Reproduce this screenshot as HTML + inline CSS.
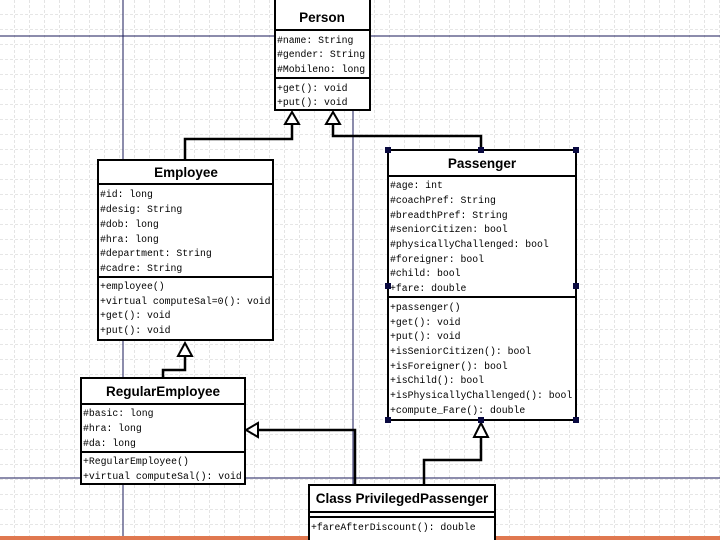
<!DOCTYPE html><html><head><style>body{margin:0;background:#fff}svg{display:block}</style></head><body>
<svg width="720" height="540" xmlns="http://www.w3.org/2000/svg" font-family="Liberation Mono, monospace" font-size="9.8">
<defs><pattern id="g" width="15" height="15" patternUnits="userSpaceOnUse"><path d="M15 0V15M0 15H15" stroke="#bcbcbc" stroke-width="0.8" stroke-dasharray="3,2" fill="none"/></pattern></defs>
<rect width="720" height="540" fill="url(#g)"/>
<g stroke="#1a1a5a" stroke-width="1"><line x1="0" y1="36" x2="720" y2="36"/><line x1="0" y1="478" x2="720" y2="478"/><line x1="123" y1="0" x2="123" y2="540"/><line x1="353" y1="110" x2="353" y2="485"/></g>
<rect x="0" y="536" width="720" height="4" fill="#e07850"/>
<g fill="#fff" stroke="#000" stroke-width="2">
<rect x="275" y="-5" width="95" height="115"/><line x1="275" y1="30" x2="370" y2="30"/><line x1="275" y1="78" x2="370" y2="78"/>
<rect x="98" y="160" width="175" height="180"/><line x1="98" y1="184" x2="273" y2="184"/><line x1="98" y1="277" x2="273" y2="277"/>
<rect x="388" y="150" width="188" height="270"/><line x1="388" y1="176" x2="576" y2="176"/><line x1="388" y1="297" x2="576" y2="297"/>
<rect x="81" y="378" width="164" height="106"/><line x1="81" y1="404" x2="245" y2="404"/><line x1="81" y1="452" x2="245" y2="452"/>
<rect x="309" y="485" width="186" height="60"/><line x1="309" y1="512" x2="495" y2="512"/><line x1="309" y1="517" x2="495" y2="517"/>
</g>
<g fill="none" stroke="#000" stroke-width="2.5">
<path d="M185 160V139H292V124"/><path d="M481 150V136H333V124"/><path d="M163 378V370H185V356"/><path d="M355 485V430H258"/><path d="M424 485V460H481V437"/>
</g>
<g fill="#fff" stroke="#000" stroke-width="2">
<path d="M292 112L285 124H299Z"/><path d="M333 112L326 124H340Z"/><path d="M185 343L178 356H192Z"/><path d="M246 430L258 423V437Z"/><path d="M481 423L474 437H488Z"/>
</g>
<g fill="#0a0a40"><rect x="385" y="147" width="6" height="6"/><rect x="478" y="147" width="6" height="6"/><rect x="573" y="147" width="6" height="6"/><rect x="385" y="283" width="6" height="6"/><rect x="573" y="283" width="6" height="6"/><rect x="385" y="417" width="6" height="6"/><rect x="478" y="417" width="6" height="6"/><rect x="573" y="417" width="6" height="6"/></g>
<g font-family="Liberation Sans, sans-serif" font-weight="bold" font-size="13.5" text-anchor="middle">
<text x="322" y="22">Person</text><text x="186" y="177">Employee</text><text x="482" y="168">Passenger</text><text x="163" y="396">RegularEmployee</text><text x="402" y="503">Class PrivilegedPassenger</text>
</g>
<g>
<text x="277" y="43">#name: String</text><text x="277" y="57">#gender: String</text><text x="277" y="72">#Mobileno: long</text><text x="277" y="91">+get(): void</text><text x="277" y="105">+put(): void</text>
<text x="100" y="197">#id: long</text><text x="100" y="212">#desig: String</text><text x="100" y="227">#dob: long</text><text x="100" y="242">#hra: long</text><text x="100" y="256">#department: String</text><text x="100" y="271">#cadre: String</text>
<text x="100" y="289">+employee()</text><text x="100" y="304">+virtual computeSal=0(): void</text><text x="100" y="318">+get(): void</text><text x="100" y="333">+put(): void</text>
<text x="390" y="188">#age: int</text><text x="390" y="203">#coachPref: String</text><text x="390" y="218">#breadthPref: String</text><text x="390" y="232">#seniorCitizen: bool</text><text x="390" y="247">#physicallyChallenged: bool</text><text x="390" y="262">#foreigner: bool</text><text x="390" y="276">#child: bool</text><text x="390" y="291">+fare: double</text>
<text x="390" y="310">+passenger()</text><text x="390" y="325">+get(): void</text><text x="390" y="339">+put(): void</text><text x="390" y="354">+isSeniorCitizen(): bool</text><text x="390" y="369">+isForeigner(): bool</text><text x="390" y="383">+isChild(): bool</text><text x="390" y="398">+isPhysicallyChallenged(): bool</text><text x="390" y="413">+compute_Fare(): double</text>
<text x="83" y="416">#basic: long</text><text x="83" y="431">#hra: long</text><text x="83" y="446">#da: long</text><text x="83" y="464">+RegularEmployee()</text><text x="83" y="479">+virtual computeSal(): void</text>
<text x="311" y="530">+fareAfterDiscount(): double</text>
</g>
</svg></body></html>
